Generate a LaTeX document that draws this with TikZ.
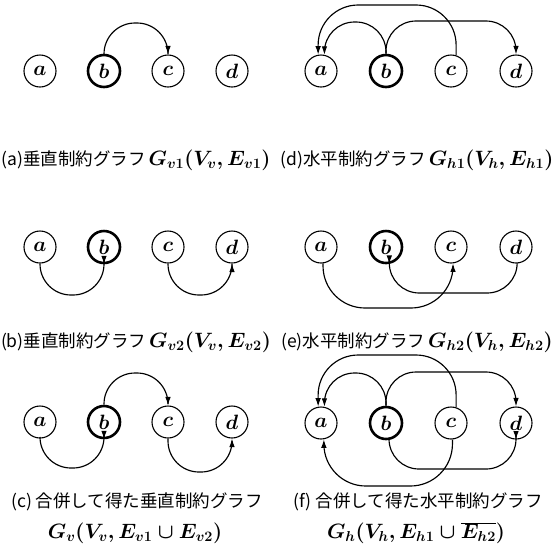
\documentclass[tikz,border=0pt]{standalone}
\usepackage{fontspec}
\newfontfamily\jp{Noto Sans CJK JP}
\usetikzlibrary{arrows.meta}
\begin{document}
\begin{tikzpicture}[x=1pt,y=-1pt,
  vtx/.style={circle,draw,line width=1.1pt,minimum size=32pt,inner sep=0pt,font=\fontsize{20}{20}\selectfont\boldmath},
  bvtx/.style={vtx,line width=2.6pt},
  edge/.style={line width=1.15pt,-{Latex[length=8.5pt,width=5.5pt]}},
  captxt/.style={inner sep=0pt,font=\jp\fontsize{17.5}{20}\selectfont}]
\newcommand{\mth}[1]{{\fontsize{20}{20}\selectfont\boldmath$#1$}}
\useasboundingbox (0,0) rectangle (553,550);
% ---------- (a)
\node[vtx]  (a1) at (40,71) {$a$};
\node[bvtx] (b1) at (104,71) {$b$};
\node[vtx]  (c1) at (168,71) {$c$};
\node[vtx]  (d1) at (232,71) {$d$};
\draw[edge,rounded corners=31] (b1.north) -- (b1.north |- 0,23) -- (c1.north |- 0,23) -- (c1.north);
\node[captxt] (capa) at (136,160) {(a)垂直制約グラフ\,\mth{G_{v1}(V_v,E_{v1})}};
% ---------- (d)
\node[vtx]  (a4) at (321,71) {$a$};
\node[bvtx] (b4) at (386,71) {$b$};
\node[vtx]  (c4) at (451,71) {$c$};
\node[vtx]  (d4) at (516,71) {$d$};
\draw[edge,rounded corners=30] (b4.north) -- (b4.north |- 0,22) -- (a4.78 |- 0,22) -- (a4.78);
\draw[edge,rounded corners=30] (b4.north) -- (b4.north |- 0,21) -- (d4.north |- 0,21) -- (d4.north);
\draw[edge,rounded corners=40] (c4.72) -- (c4.72 |- 0,5) -- (a4.100 |- 0,5) -- (a4.100);
\node[captxt] (capd) at (417,160) {(d)水平制約グラフ\,\mth{G_{h1}(V_h,E_{h1})}};
% ---------- (b)
\node[vtx]  (a2) at (40,247) {$a$};
\node[bvtx] (b2) at (104,247) {$b$};
\node[vtx]  (c2) at (168,247) {$c$};
\node[vtx]  (d2) at (232,247) {$d$};
\draw[edge,rounded corners=31] (a2.south) -- (a2.south |- 0,295) -- (b2.south |- 0,295) -- (b2.south);
\draw[edge,rounded corners=31] (c2.south) -- (c2.south |- 0,295) -- (d2.south |- 0,295) -- (d2.south);
\node[captxt] (capb) at (136,342) {(b)垂直制約グラフ\,\mth{G_{v2}(V_v,E_{v2})}};
% ---------- (e)
\node[vtx]  (a5) at (321,247) {$a$};
\node[bvtx] (b5) at (386,247) {$b$};
\node[vtx]  (c5) at (451,247) {$c$};
\node[vtx]  (d5) at (516,247) {$d$};
\draw[edge,rounded corners=42] (a5.-83) -- (a5.-83 |- 0,308) -- (c5.-83 |- 0,308) -- (c5.-83);
\draw[edge,rounded corners=30] (d5.-86) -- (d5.-86 |- 0,293) -- (b5.-79 |- 0,293) -- (b5.-79);
\node[captxt] (cape) at (417,342) {(e)水平制約グラフ\,\mth{G_{h2}(V_h,E_{h2})}};
% ---------- (c)
\node[vtx]  (a3) at (40,422) {$a$};
\node[bvtx] (b3) at (104,422) {$b$};
\node[vtx]  (c3) at (168,422) {$c$};
\node[vtx]  (d3) at (232,422) {$d$};
\draw[edge,rounded corners=31] (b3.north) -- (b3.north |- 0,373) -- (c3.north |- 0,373) -- (c3.north);
\draw[edge,rounded corners=31] (a3.south) -- (a3.south |- 0,468) -- (b3.south |- 0,468) -- (b3.south);
\draw[edge,rounded corners=31] (c3.south) -- (c3.south |- 0,472) -- (d3.south |- 0,472) -- (d3.south);
\node[captxt] (capc) at (137,502) {(c) 合併して得た垂直制約グラフ};
\node[captxt] (capc2) at (135,533) {\mth{G_v(V_v,E_{v1}\cup E_{v2})}};
% ---------- (f)
\node[vtx]  (a6) at (321,423) {$a$};
\node[bvtx] (b6) at (386,423) {$b$};
\node[vtx]  (c6) at (451,423) {$c$};
\node[vtx]  (d6) at (516,423) {$d$};
\draw[edge,rounded corners=30] (b6.north) -- (b6.north |- 0,373) -- (a6.78 |- 0,373) -- (a6.78);
\draw[edge,rounded corners=30] (b6.north) -- (b6.north |- 0,372) -- (d6.north |- 0,372) -- (d6.north);
\draw[edge,rounded corners=40] (c6.72) -- (c6.72 |- 0,355) -- (a6.100 |- 0,355) -- (a6.100);
\draw[edge,rounded corners=30] (b6.-80) -- (b6.-80 |- 0,469) -- (d6.south |- 0,469) -- (d6.south);
\draw[edge,rounded corners=42] (c6.-85) -- (c6.-85 |- 0,486) -- (a6.-80 |- 0,486) -- (a6.-80);
\node[captxt] (capf) at (418,502) {(f) 合併して得た水平制約グラフ};
\node[captxt] (capf2) at (416,533) {\mth{G_h(V_h,E_{h1}\cup\overline{E_{h2}})}};
\end{tikzpicture}
\end{document}
